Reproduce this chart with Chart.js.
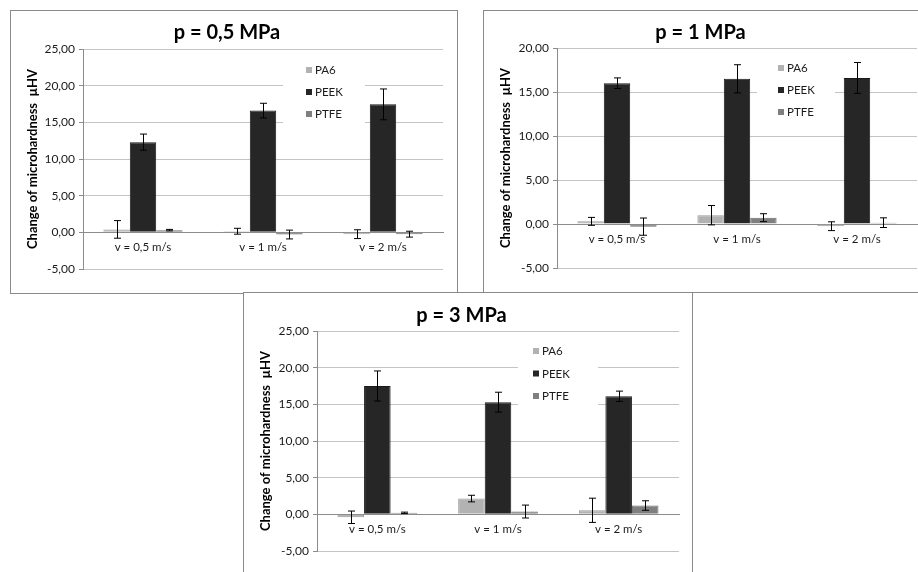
<!DOCTYPE html>
<html>
<head>
<meta charset="utf-8">
<script src="https://cdn.jsdelivr.net/npm/chart.js@4.4.0/dist/chart.umd.min.js"></script>
<style>
  html, body { margin: 0; padding: 0; background: #fff; overflow: hidden; width: 918px; height: 572px; }
  .panel { position: absolute; border: 1px solid #8a8a8a; background: #fff; }
  .panel canvas { display: block; }
</style>
</head>
<body>
<div class="panel" style="left:10px;top:10px;"><canvas id="c1" width="446" height="282" style="width:446px;height:282px"></canvas></div>
<div class="panel" style="left:483px;top:10px;"><canvas id="c2" width="446" height="281" style="width:446px;height:281px"></canvas></div>
<div class="panel" style="left:243px;top:292px;"><canvas id="c3" width="448" height="290" style="width:448px;height:290px"></canvas></div>
<script>
var categories = ['v = 0,5 m/s', 'v = 1 m/s', 'v = 2 m/s'];
var seriesNames = ['PA6', 'PEEK', 'PTFE'];
var seriesColors = ['#b2b2b2', '#262626', '#7f7f7f'];
var seriesBorders = ['#9a9a9a', '#1a1a1a', '#6e6e6e'];

// p = 0,5 MPa
var pa6_05 = [0.40, 0.15, -0.25];
var peek_05 = [12.3, 16.6, 17.45];
var ptfe_05 = [0.30, -0.30, -0.25];
var pa6_05_err = [1.2, 0.4, 0.6];
var peek_05_err = [1.1, 1.0, 2.1];
var ptfe_05_err = [0.1, 0.6, 0.4];

// p = 1 MPa
var pa6_1 = [0.30, 1.00, -0.25];
var peek_1 = [16.0, 16.5, 16.6];
var ptfe_1 = [-0.30, 0.72, 0.15];
var pa6_1_err = [0.45, 1.1, 0.5];
var peek_1_err = [0.6, 1.6, 1.75];
var ptfe_1_err = [0.98, 0.45, 0.55];

// p = 3 MPa
var pa6_3 = [-0.40, 2.15, 0.55];
var peek_3 = [17.5, 15.3, 16.1];
var ptfe_3 = [0.20, 0.38, 1.20];
var pa6_3_err = [0.85, 0.45, 1.65];
var peek_3_err = [2.05, 1.35, 0.7];
var ptfe_3_err = [0.1, 0.88, 0.65];

var yRange05 = [-5, 25];
var yRange1 = [-5, 20];
var yRange3 = [-5, 25];
var yStep = 5;

var errorBars = {
  id: 'errorBars',
  afterDatasetsDraw: function(chart) {
    var ctx = chart.ctx, y = chart.scales.y;
    ctx.save();
    ctx.strokeStyle = '#000';
    ctx.lineWidth = 1;
    chart.data.datasets.forEach(function(ds, i) {
      var meta = chart.getDatasetMeta(i);
      meta.data.forEach(function(bar, j) {
        var v = ds.data[j], e = ds.errors[j];
        var top = y.getPixelForValue(v + e), bot = y.getPixelForValue(v - e);
        var x = Math.round(bar.x) + 0.5;
        ctx.beginPath();
        ctx.moveTo(x, top); ctx.lineTo(x, bot);
        ctx.moveTo(x - 3.5, top); ctx.lineTo(x + 3.5, top);
        ctx.moveTo(x - 3.5, bot); ctx.lineTo(x + 3.5, bot);
        ctx.stroke();
      });
    });
    ctx.restore();
  }
};

// legend drawn inside the plot, on a white box over the gridlines
var innerLegend = {
  id: 'innerLegend',
  beforeDatasetsDraw: function(chart, args, opts) {
    var ctx = chart.ctx;
    ctx.save();
    ctx.fillStyle = '#fff';
    ctx.fillRect(opts.box[0], opts.box[1], opts.box[2], opts.box[3]);
    ctx.font = '11.5px Lato';
    ctx.textBaseline = 'middle';
    chart.data.datasets.forEach(function(ds, i) {
      var yy = opts.firstRow + i * opts.rowGap;
      ctx.fillStyle = ds.backgroundColor;
      ctx.fillRect(opts.markerX, yy - 3, 6, 6);
      ctx.fillStyle = '#1a1a1a';
      ctx.fillText(ds.label, opts.markerX + 9, yy + 0.5);
    });
    ctx.restore();
  }
};

function fmt(v) {
  return v.toFixed(2).replace('.', ',');
}

function makePanel(id, title, series, errors, yRange, lay) {
  var datasets = series.map(function(vals, i) {
    return {
      label: seriesNames[i],
      data: vals,
      errors: errors[i],
      backgroundColor: seriesColors[i],
      borderColor: seriesBorders[i],
      borderWidth: 1,
      categoryPercentage: 0.66,
      barPercentage: 1.0
    };
  });
  return new Chart(document.getElementById(id), {
    type: 'bar',
    data: { labels: categories, datasets: datasets },
    plugins: [errorBars, innerLegend],
    options: {
      responsive: false,
      animation: false,
      layout: { padding: { left: 0, right: lay.right, top: 0, bottom: lay.bottom } },
      plugins: {
        legend: { display: false },
        tooltip: { enabled: false },
        title: {
          display: true,
          text: title,
          color: '#000',
          font: { family: 'Lato', size: 20, weight: 'bold' },
          padding: { top: lay.titleTop, bottom: lay.titleBottom }
        },
        innerLegend: lay.legend
      },
      scales: {
        x: {
          position: { y: 0 },
          grid: { display: false, drawTicks: false },
          border: { display: true, color: '#8c8c8c', width: 1 },
          ticks: { color: '#1a1a1a', font: { family: 'Lato', size: 11.5 }, padding: 8 }
        },
        y: {
          min: yRange[0],
          max: yRange[1],
          afterFit: function(s) { s.width = lay.axisWidth; },
          ticks: {
            stepSize: yStep,
            color: '#1a1a1a',
            font: { family: 'Lato', size: 12 },
            padding: 4,
            callback: function(value) { return fmt(value); }
          },
          grid: { color: '#c4c4c4', tickColor: '#8c8c8c', tickLength: 4 },
          border: { display: true, color: '#8c8c8c' },
          title: {
            display: true,
            text: 'Change of microhardness  µHV',
            color: '#000',
            font: { family: 'Lato', size: 13, weight: 'bold' },
            padding: { top: 14, bottom: 0 }
          }
        }
      }
    }
  });
}

makePanel('c1', 'p = 0,5 MPa',
  [pa6_05, peek_05, ptfe_05], [pa6_05_err, peek_05_err, ptfe_05_err], yRange05,
  { right: 14, bottom: 24, titleTop: 10, titleBottom: 4, axisWidth: 72,
    legend: { box: [272, 47, 82, 67], markerX: 295, firstRow: 59, rowGap: 22 } });

makePanel('c2', 'p = 1 MPa',
  [pa6_1, peek_1, ptfe_1], [pa6_1_err, peek_1_err, ptfe_1_err], yRange1,
  { right: 13, bottom: 24, titleTop: 10, titleBottom: 3, axisWidth: 73,
    legend: { box: [273, 44, 78, 70], markerX: 294, firstRow: 57, rowGap: 22 } });

makePanel('c3', 'p = 3 MPa',
  [pa6_3, peek_3, ptfe_3], [pa6_3_err, peek_3_err, ptfe_3_err], yRange3,
  { right: 13, bottom: 32, titleTop: 11, titleBottom: 3, axisWidth: 73,
    legend: { box: [274, 46, 80, 70], markerX: 289, firstRow: 58, rowGap: 22.5 } });
</script>
</body>
</html>
